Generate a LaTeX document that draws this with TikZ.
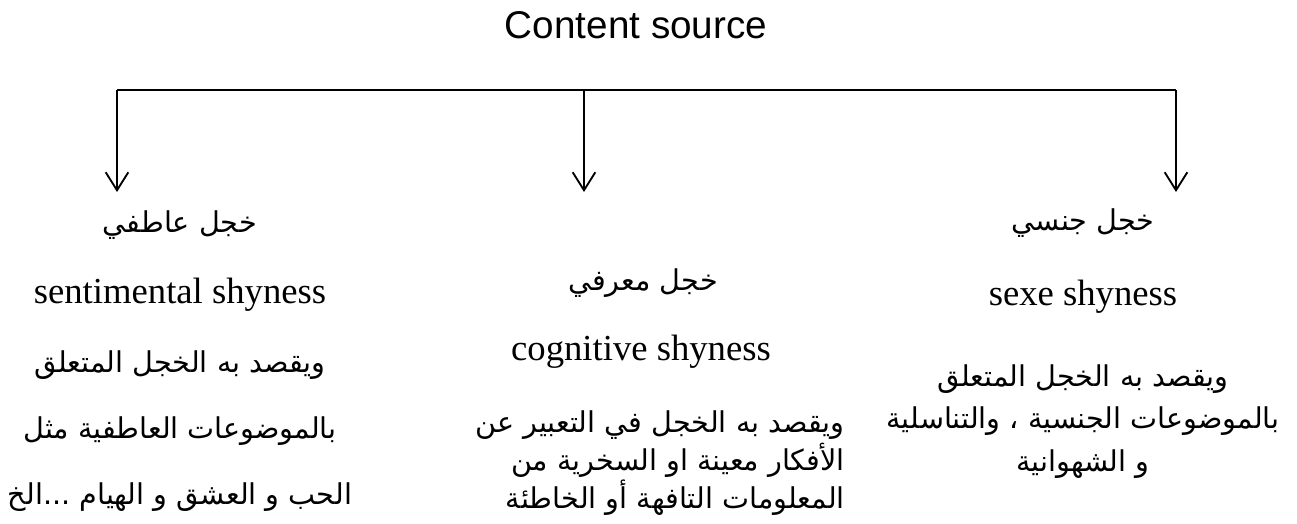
\documentclass[tikz,border=0pt]{standalone}
\usepackage{fontspec}
\setmainfont{Liberation Serif}
\newfontfamily\latinsans{Liberation Sans}
\newfontfamily\arabicfont[Script=Arabic]{DejaVu Sans}
\TeXXeTstate=1
\usetikzlibrary{arrows.meta}
\begin{document}
\begin{tikzpicture}[x=0.75pt, y=-0.75pt,
    branch/.style={line width=1.4pt, -{Straight Barb[length=13.5pt, width=17pt, line width=1.4pt]}},
    artitle/.style={inner sep=0, font=\arabicfont\fontsize{21.5}{25}\selectfont},
    entitle/.style={inner sep=0, font=\fontsize{27.5}{33}\selectfont},
    artext/.style={inner sep=0, align=center, font=\arabicfont\fontsize{21.5}{#1}\selectfont}]
        \useasboundingbox (0,0) rectangle (1297,524);
        \draw node[inner sep=0, font=\latinsans\fontsize{29}{33}\selectfont] (src) at (636,25) {Content source};
        % the bar
        \coordinate (lt) at (117,90);
        \coordinate (md) at (584,90);
        \coordinate (rt) at (1176,90);
        \draw[line width=1.4pt] (lt) -- (rt);
        \draw[branch] (lt) -- (117,192);
        \draw[branch] (md) -- (584,192);
        \draw[branch] (rt) -- (1176,192);
        % left
        \draw node[artitle] (sent) at (180,225) {\beginR خجل عاطفي\endR};
        \draw node[entitle] (senten) at (180,295) {sentimental shyness};
        \draw node[artext=49.5, anchor=north] (sentdef) at (180,350) {\beginR ويقصد به الخجل المتعلق\endR\\\beginR بالموضوعات العاطفية مثل\endR\\\beginR الحب و العشق و الهيام ...الخ\endR};
        % middle
        \draw node[artitle] (cogn) at (643,283) {\beginR خجل معرفي\endR};
        \draw node[entitle] (cognen) at (641,352) {cognitive shyness};
        \draw node[artext=28.5, align=right, anchor=north east] (cogndef) at (845,410) {\beginR ويقصد به الخجل في التعبير عن\endR\\\beginR الأفكار معينة او السخرية من\endR\\\beginR المعلومات التافهة أو الخاطئة\endR};
        % right
        \draw node[artitle] (sexe) at (1083,223) {\beginR خجل جنسي\endR};
        \draw node[entitle] (sexeen) at (1083,297) {sexe shyness};
        \draw node[artext=32, anchor=north] (sexedef) at (1083,364) {\beginR ويقصد به الخجل المتعلق\endR\\\beginR بالموضوعات الجنسية ، والتناسلية\endR\\\beginR و الشهوانية\endR};
\end{tikzpicture}
\end{document}
